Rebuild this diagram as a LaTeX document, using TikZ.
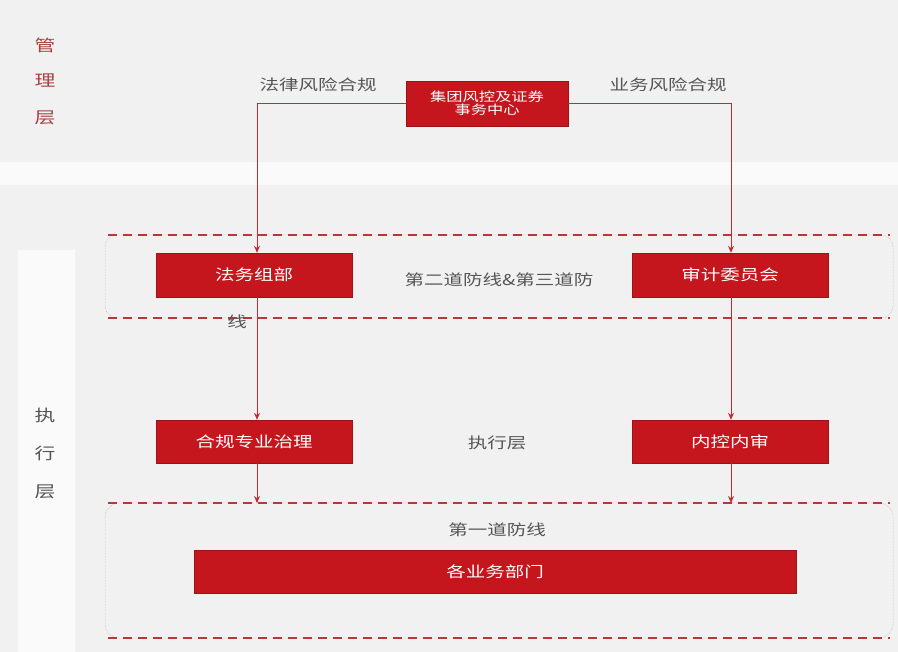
\documentclass[tikz,border=0pt]{standalone}
\usepackage{fontspec}
\setmainfont{Noto Sans CJK SC}[FakeStretch=1.3]
\usetikzlibrary{arrows.meta}
\definecolor{boxred}{HTML}{C4161C}
\definecolor{linered}{HTML}{C8282E}
\definecolor{dashred}{HTML}{B23A3A}
\definecolor{bg}{HTML}{F1F1F1}
\definecolor{txtgray}{HTML}{555555}
\definecolor{layred}{HTML}{A84040}
\begin{document}
\begin{tikzpicture}[x=1pt,y=-1pt,
  redbox/.style={draw=boxred!80!black,fill=boxred,text=white,inner sep=0pt,font=\fontsize{15}{17}\selectfont},
  conn/.style={draw=linered,line width=1pt},
  arr/.style={conn,-{Stealth[length=7pt,width=6pt]}},
  dashline/.style={draw=dashred,line width=2pt,dash pattern=on 9pt off 6pt},
  sideline/.style={draw=gray!60,line width=0.5pt,densely dotted},
  graytxt/.style={text=txtgray,font=\fontsize{15}{17}\selectfont},
  laytxt/.style={font=\fontsize{16}{18}\selectfont}]
\useasboundingbox (0,0) rectangle (898,652);
\fill[bg] (0,0) rectangle (898,652);
\fill[white,opacity=0.7] (0,162) rectangle (898,185);
\fill[white,opacity=0.7] (18,250) rectangle (75,652);

% left column labels
\node[laytxt,text=layred] (g1) at (45,45) {管};
\node[laytxt,text=layred] (g2) at (45,81) {理};
\node[laytxt,text=layred] (g3) at (45,118) {层};
\node[laytxt,text=txtgray] (z1) at (45,415) {执};
\node[laytxt,text=txtgray] (z2) at (45,453) {行};
\node[laytxt,text=txtgray] (z3) at (45,492) {层};

% dashed groups
\draw[sideline,rounded corners=12pt] (105,235) rectangle (893,318);
\draw[dashline] (108,235) -- (890,235);
\draw[dashline] (108,318) -- (890,318);
\draw[sideline,rounded corners=14pt] (105,503) rectangle (893,638);
\draw[dashline] (108,503) -- (890,503);
\draw[dashline] (108,638) -- (890,638);

% boxes
\node[redbox,minimum width=162pt,minimum height=45pt,align=center,font=\fontsize{12.5}{13}\selectfont] (top) at (487,103.5) {集团风控及证券\\事务中心};
\node[redbox,minimum width=196pt,minimum height=44pt] (fw) at (254,275) {法务组部};
\node[redbox,minimum width=196pt,minimum height=44pt] (sj) at (730,275) {审计委员会};
\node[redbox,minimum width=196pt,minimum height=43pt] (hg) at (254,441.5) {合规专业治理};
\node[redbox,minimum width=196pt,minimum height=43pt] (nk) at (730,441.5) {内控内审};
\node[redbox,minimum width=602pt,minimum height=43pt] (gy) at (495,571.5) {各业务部门};

% texts
\node[graytxt] (fl) at (318,85) {法律风险合规};
\node[graytxt] (yw) at (668,85) {业务风险合规};
\node[graytxt] (d23) at (499,280) {第二道防线\&第三道防};
\node[graytxt] (xian) at (237,322) {线};
\node[graytxt] (zxc) at (497,443) {执行层};
\node[graytxt] (d1) at (497,530) {第一道防线};

% connectors
\coordinate (l1) at (257,103.5);
\coordinate (r1) at (731,103.5);
\coordinate (b1) at (257,503);
\coordinate (b2) at (731,503);
\draw[arr] (top.west) -- (l1) -- (l1 |- fw.north);
\draw[arr] (top.east) -- (r1) -- (r1 |- sj.north);
\draw[arr] (fw.south -| l1) -- (l1 |- hg.north);
\draw[arr] (sj.south -| r1) -- (r1 |- nk.north);
\draw[arr] (hg.south -| l1) -- (b1);
\draw[arr] (nk.south -| r1) -- (b2);
\end{tikzpicture}
\end{document}
